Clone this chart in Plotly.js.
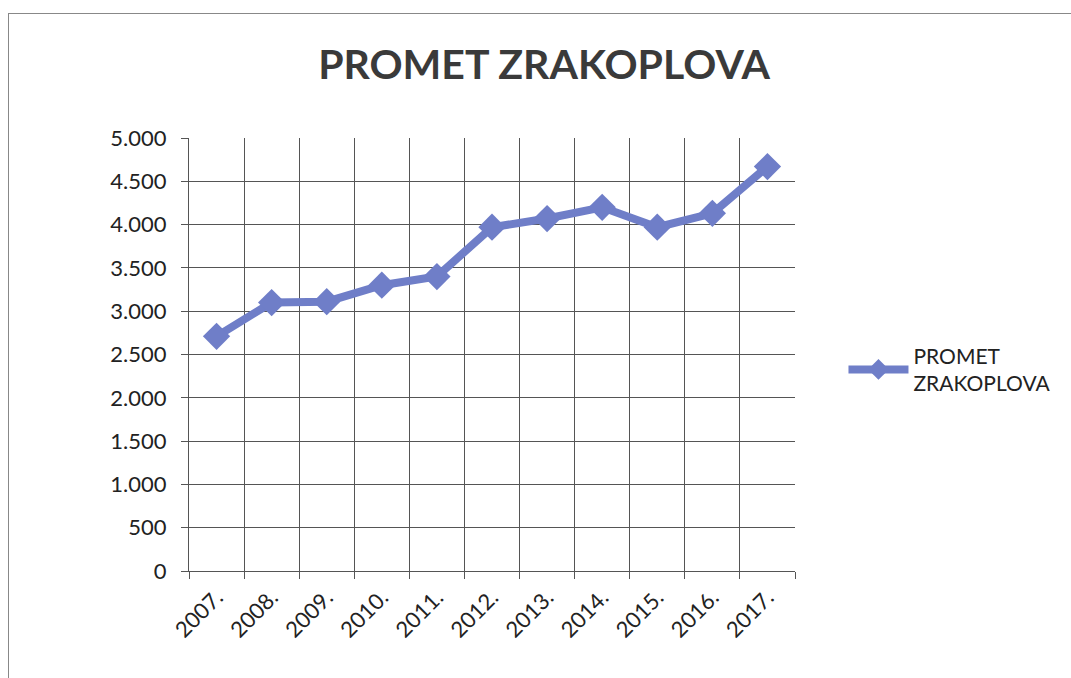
<!DOCTYPE html>
<html>
<head>
<meta charset="utf-8">
<script src="https://cdn.plot.ly/plotly-3.0.1.min.js"></script>
<style>
html,body{margin:0;padding:0;background:#fff;}
#frame{position:absolute;left:8px;top:13px;width:1063px;height:665px;border-left:1px solid #888;border-top:1px solid #888;box-sizing:border-box;}
#chart{position:absolute;left:0;top:0;width:1071px;height:678px;}
</style>
</head>
<body>
<div id="frame"></div>
<div id="chart"></div>
<script>
const years = ["2007.","2008.","2009.","2010.","2011.","2012.","2013.","2014.","2015.","2016.","2017."];
const promet = [2710, 3100, 3110, 3300, 3400, 3970, 4070, 4200, 3970, 4130, 4670];
const yTicks = [0,500,1000,1500,2000,2500,3000,3500,4000,4500,5000];
const yTickText = ["0","500","1.000","1.500","2.000","2.500","3.000","3.500","4.000","4.500","5.000"];
const seriesName = "PROMET<br>ZRAKOPLOVA";

const trace = {
  x: years, y: promet, type: "scatter", mode: "lines+markers",
  name: seriesName,
  line: {color: "#6f7ec8", width: 8},
  marker: {symbol: "diamond", size: 21, color: "#6f7ec8"}
};
const layout = {
  width: 1071, height: 678,
  paper_bgcolor: "rgba(0,0,0,0)", plot_bgcolor: "#fff",
  margin: {l: 189, r: 276, t: 138, b: 107},
  font: {family: "Lato, 'Open Sans', sans-serif", color: "#222", size: 22},
  title: {text: "PROMET ZRAKOPLOVA", x: 0.508, xanchor: "center", y: 0.905, yanchor: "middle",
          font: {family: "Lato, 'Open Sans', sans-serif", size: 41, color: "#3a3a3a", weight: 700}},
  xaxis: {type: "category", range: [-0.5, 10.5], tickson: "boundaries",
          showgrid: true, gridcolor: "#555", gridwidth: 1,
          showline: true, linecolor: "#555", linewidth: 1, mirror: false,
          ticks: "outside", ticklen: 7, tickcolor: "#555",
          ticklabelstandoff: 4,
          tickangle: -45, tickfont: {size: 22, color: "#222"}},
  yaxis: {range: [0, 5000], tickvals: yTicks, ticktext: yTickText,
          showgrid: true, gridcolor: "#555", gridwidth: 1,
          showline: true, linecolor: "#555", linewidth: 1, zeroline: false,
          ticks: "outside", ticklen: 7, tickcolor: "#555",
          ticklabelstandoff: 10,
          tickfont: {size: 22, color: "#222"}},
  showlegend: true,
  legend: {x: 1.08, xanchor: "left", y: 0.465, yanchor: "middle",
           font: {size: 21, color: "#222"}, bgcolor: "rgba(0,0,0,0)", itemwidth: 60}
};
Plotly.newPlot("chart", [trace], layout, {displayModeBar: false, staticPlot: true});
</script>
</body>
</html>
